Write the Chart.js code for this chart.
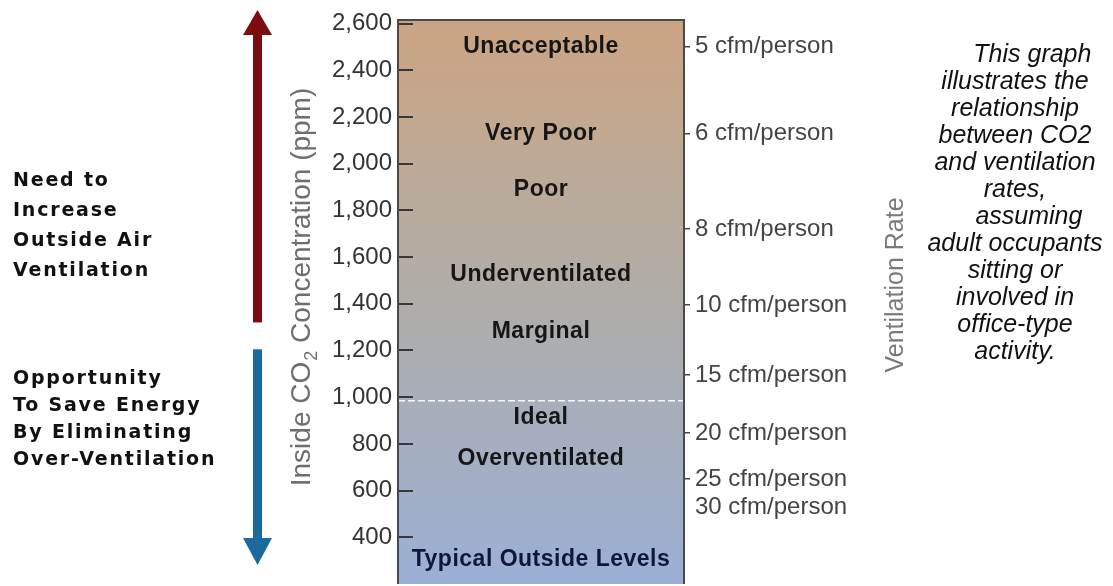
<!DOCTYPE html>
<html><head><meta charset="utf-8">
<script src="https://cdn.jsdelivr.net/npm/chart.js@4.4.0/dist/chart.umd.min.js"></script>
<style>html,body{margin:0;padding:0;background:#fff;overflow:hidden}#wrap{width:1113px;height:586px;overflow:hidden}</style>
</head><body><div id="wrap"><canvas id="c" width="1113" height="600"></canvas></div>
<script>
// ---- data ----
const categories = ['CO2'];
const rangeLow = [200];
const rangeHigh = [2615];
const ppmTicks = [400, 600, 800, 1000, 1200, 1400, 1600, 1800, 2000, 2200, 2400, 2600];
const zoneNames = ['Unacceptable', 'Very Poor', 'Poor', 'Underventilated', 'Marginal', 'Ideal', 'Overventilated', 'Typical Outside Levels'];
const zoneLevels = [2500, 2130, 1890, 1523, 1280, 911, 735, 303];
const cfmLabels = ['5 cfm/person', '6 cfm/person', '8 cfm/person', '10 cfm/person', '15 cfm/person', '20 cfm/person', '25 cfm/person', '30 cfm/person'];
const cfmLevels = [2500, 2130, 1720, 1395, 1095, 847, 650, 530];
const cfmTickShown = [true, true, true, true, true, true, true, false];
const idealLimit = 985;
const leftTitle = ['Inside CO', '2', ' Concentration (ppm)'];
const rightTitle = 'Ventilation Rate';
const needText = ['Need to', 'Increase', 'Outside Air', 'Ventilation'];
const saveText = ['Opportunity', 'To Save Energy', 'By Eliminating', 'Over-Ventilation'];
const noteText = ['\u00a0\u00a0\u00a0\u00a0\u00a0This graph', 'illustrates the', 'relationship', 'between CO2', 'and ventilation', 'rates,', '\u00a0\u00a0\u00a0\u00a0assuming', 'adult occupants', 'sitting or', 'involved in', 'office-type', 'activity.'];
const needArrowEnd = 1320;   // ppm where the red arrow stops
const saveArrowStart = 1205; // ppm where the blue arrow starts

const W = 1113;
const FONT = "'Liberation Sans', Arial, sans-serif";

function grad(chart) {
  const {ctx, chartArea} = chart;
  if (!chartArea) return '#b0b0b0';
  const g = ctx.createLinearGradient(0, chartArea.top, 0, chartArea.bottom);
  g.addColorStop(0, 'rgb(203,164,132)');
  g.addColorStop(0.18, 'rgb(195,168,144)');
  g.addColorStop(0.38, 'rgb(182,172,160)');
  g.addColorStop(0.55, 'rgb(173,173,172)');
  g.addColorStop(0.68, 'rgb(168,174,186)');
  g.addColorStop(1, 'rgb(155,176,213)');
  return g;
}

const decor = {
  id: 'decor',
  afterDatasetsDraw(chart) {
    const {ctx, chartArea: ca, scales} = chart;
    const ys = scales.y;
    ctx.save();
    // dashed ideal line
    const yd = ys.getPixelForValue(idealLimit);
    ctx.strokeStyle = 'rgba(255,255,255,0.9)';
    ctx.lineWidth = 1.5;
    ctx.setLineDash([7, 3]);
    ctx.beginPath(); ctx.moveTo(ca.left, yd); ctx.lineTo(ca.right, yd); ctx.stroke();
    ctx.setLineDash([]);
    // inner ticks
    ctx.strokeStyle = '#383838';
    ctx.lineWidth = 2;
    ppmTicks.forEach(v => {
      const y = Math.round(ys.getPixelForValue(v));
      ctx.beginPath(); ctx.moveTo(ca.left, y); ctx.lineTo(ca.left + 15, y); ctx.stroke();
    });
    // frame
    ctx.strokeStyle = '#4a4a4a';
    ctx.lineWidth = 2;
    ctx.beginPath();
    ctx.moveTo(ca.left, ca.bottom); ctx.lineTo(ca.left, ca.top); ctx.lineTo(ca.right, ca.top); ctx.lineTo(ca.right, ca.bottom);
    ctx.stroke();
    // zone labels
    ctx.textAlign = 'center';
    ctx.textBaseline = 'middle';
    ctx.font = 'bold 23px ' + FONT;
    try { ctx.letterSpacing = '0.5px'; } catch (e) {}
    const cx = (ca.left + ca.right) / 2;
    zoneNames.forEach((n, i) => {
      ctx.fillStyle = zoneLevels[i] < 500 ? '#0e1838' : '#161616';
      ctx.fillText(n, cx, ys.getPixelForValue(zoneLevels[i]));
    });
    try { ctx.letterSpacing = '0px'; } catch (e) {}
    // left title (rotated)
    ctx.save();
    ctx.translate(310, 287);
    ctx.rotate(-Math.PI / 2);
    ctx.fillStyle = '#6e6e6e';
    ctx.textAlign = 'left';
    ctx.textBaseline = 'alphabetic';
    const f1 = '28px ' + FONT, f2 = '18px ' + FONT;
    ctx.font = f1; const w1 = ctx.measureText(leftTitle[0]).width; const w3 = ctx.measureText(leftTitle[2]).width;
    ctx.font = f2; const w2 = ctx.measureText(leftTitle[1]).width + 1;
    let x0 = -(w1 + w2 + w3) / 2;
    ctx.font = f1; ctx.fillText(leftTitle[0], x0, 0);
    ctx.font = f2; ctx.fillText(leftTitle[1], x0 + w1 + 1, 7);
    ctx.font = f1; ctx.fillText(leftTitle[2], x0 + w1 + w2, 0);
    ctx.restore();
    // right title
    ctx.save();
    ctx.translate(903, 285);
    ctx.rotate(-Math.PI / 2);
    ctx.fillStyle = '#7a7a7a';
    ctx.textAlign = 'center';
    ctx.textBaseline = 'alphabetic';
    ctx.font = '25px ' + FONT;
    ctx.fillText(rightTitle, 0, 0);
    ctx.restore();
    // arrows
    const ax = 257.5, hw = 14.5, sw = 4.5;
    const redBottom = ys.getPixelForValue(needArrowEnd);
    const redTip = ca.top - 10;
    ctx.fillStyle = '#7b0d12';
    ctx.fillRect(ax - sw, redTip + 24, sw * 2, redBottom - redTip - 24);
    ctx.beginPath(); ctx.moveTo(ax, redTip); ctx.lineTo(ax + hw, redTip + 25); ctx.lineTo(ax - hw, redTip + 25); ctx.closePath(); ctx.fill();
    const blueTop = ys.getPixelForValue(saveArrowStart);
    const blueTip = ys.getPixelForValue(ys.min) - 19;
    ctx.fillStyle = '#1c6a9d';
    ctx.fillRect(ax - sw, blueTop, sw * 2, blueTip - 26 - blueTop);
    ctx.beginPath(); ctx.moveTo(ax, blueTip); ctx.lineTo(ax + hw, blueTip - 27); ctx.lineTo(ax - hw, blueTip - 27); ctx.closePath(); ctx.fill();
    // left captions
    ctx.fillStyle = '#111';
    ctx.textAlign = 'left';
    ctx.textBaseline = 'middle';
    ctx.font = "bold 19px 'DejaVu Sans', Verdana, sans-serif";
    try { ctx.letterSpacing = '1.8px'; } catch (e) {}
    needText.forEach((t, i) => ctx.fillText(t, 13, 181 + i * 30));
    saveText.forEach((t, i) => ctx.fillText(t, 13, 379 + i * 27));
    try { ctx.letterSpacing = '0px'; } catch (e) {}
    // right note
    ctx.fillStyle = '#111';
    ctx.textAlign = 'center';
    ctx.font = 'italic 25px ' + FONT;
    noteText.forEach((t, i) => ctx.fillText(t, 1015, 55 + i * 27));
    ctx.restore();
  }
};

new Chart(document.getElementById('c'), {
  type: 'bar',
  data: {
    labels: categories,
    datasets: [{
      data: categories.map((c, i) => [rangeLow[i], rangeHigh[i]]),
      backgroundColor: ctx => grad(ctx.chart),
      borderWidth: 0,
      barPercentage: 1,
      categoryPercentage: 1,
      yAxisID: 'y'
    }]
  },
  options: {
    responsive: false,
    devicePixelRatio: 1,
    animation: false,
    layout: {padding: {top: 20, bottom: 16, left: 0, right: 0}},
    plugins: {legend: {display: false}, tooltip: {enabled: false}},
    scales: {
      x: {display: false},
      y: {
        position: 'left',
        min: rangeLow[0], max: rangeHigh[0],
        afterBuildTicks: s => { s.ticks = ppmTicks.map(v => ({value: v})); },
        afterFit: s => { s.width = 398; s.paddingTop = 0; s.paddingBottom = 0; },
        ticks: {autoSkip: false, padding: 6, color: '#333', font: {family: FONT, size: 24},
          callback: v => Number(v).toLocaleString('en-US')},
        grid: {display: false, drawTicks: false},
        border: {display: false}
      },
      y2: {
        position: 'right',
        min: rangeLow[0], max: rangeHigh[0],
        afterBuildTicks: s => { s.ticks = cfmLevels.slice().sort((a, b) => a - b).map(v => ({value: v})); },
        afterFit: s => { s.width = W - 684; s.paddingTop = 0; s.paddingBottom = 0; },
        ticks: {autoSkip: false, padding: 5, color: '#444', font: {family: FONT, size: 24},
          callback: v => cfmLabels[cfmLevels.indexOf(v)]},
        grid: {display: true, drawOnChartArea: false, drawTicks: true, tickLength: 6, lineWidth: 1.5,
          color: c => (c.tick && cfmTickShown[cfmLevels.indexOf(c.tick.value)]) ? '#444' : 'rgba(0,0,0,0)'},
        border: {display: false}
      }
    }
  },
  plugins: [decor]
});
</script></body></html>
